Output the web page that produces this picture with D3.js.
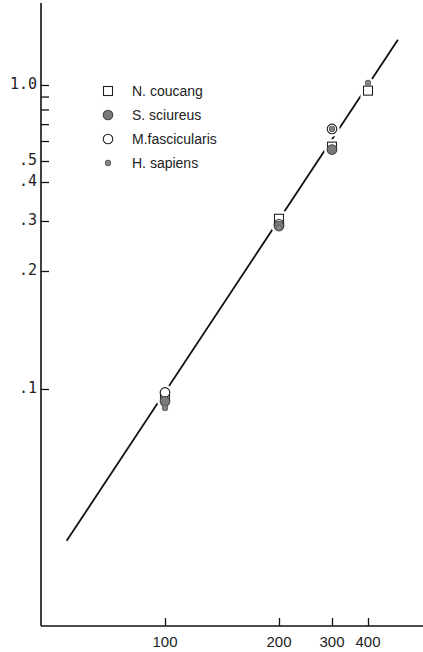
<!DOCTYPE html>
<html>
<head>
<meta charset="utf-8">
<script src="https://cdn.jsdelivr.net/npm/d3@7"></script>
<style>
  body { margin: 0; background: #fff; }
  svg { display: block; }
</style>
</head>
<body>
<div id="chart"></div>
<script>

// 1. Data

const xTicks = [100, 200, 300, 400]
const yTicks = [1.0, 0.5, 0.4, 0.3, 0.2, 0.1]
const yTickLabels = ["1.0", ".5", ".4", ".3", ".2", ".1"]
const yMinorTicks = [0.9, 0.8, 0.7, 0.6]

const species = ["N. coucang", "S. sciureus", "M.fascicularis", "H. sapiens"]

const coucang = [[100, 0.096], [200, 0.305], [300, 0.57], [400, 0.95]]
const sciureus = [[100, 0.093], [200, 0.288], [300, 0.555]]
const fascicularis = [[100, 0.098], [200, 0.292], [300, 0.67]]
const sapiens = [[100, 0.0895], [200, 0.284], [300, 0.67], [400, 1.02]]

// fitted line, end points
const fitLine = [[55, 0.041], [508, 1.51]]

// 2. Dimensions

let dimensions = {
  width: 423,
  height: 652,
  axisX: 41,   // where the y axis stands
  axisY: 626,  // where the x axis stands
}

// 3. Canvas

const wrapper = d3.select("#chart")
  .append("svg")
    .attr("width", dimensions.width)
    .attr("height", dimensions.height)

// 4. Scales (the printed axes are not quite even, so the log scales are piecewise)

const xScale = d3.scaleLog()
  .domain(xTicks)
  .range([165, 279, 332, 368])

const yScale = d3.scaleLog()
  .domain(yTicks)
  .range([85, 161, 182, 221, 271, 389])

// 5. Axes

const yAxisGenerator = d3.axisRight(yScale)
  .tickValues(yTicks.concat(yMinorTicks))
  .tickSize(8)
  .tickFormat("")

const yAxis = wrapper.append("g")
  .attr("transform", `translate(${dimensions.axisX},0)`)
  .call(yAxisGenerator)

yAxis.select(".domain").remove()
yAxis.selectAll("line").attr("stroke", "#111").attr("stroke-width", 1.3)

wrapper.append("line")
  .attr("x1", dimensions.axisX).attr("x2", dimensions.axisX)
  .attr("y1", 3).attr("y2", dimensions.axisY)
  .attr("stroke", "#111").attr("stroke-width", 1.6)

wrapper.append("g")
  .selectAll("text")
  .data(yTicks)
  .join("text")
    .attr("x", dimensions.axisX - 4)
    .attr("y", d => yScale(d) + 4)
    .attr("text-anchor", "end")
    .attr("font-family", "DejaVu Sans Mono, Liberation Mono, monospace")
    .attr("font-size", 15)
    .attr("fill", "#222")
    .text((d, i) => yTickLabels[i])

const xAxisGenerator = d3.axisTop(xScale)
  .tickValues(xTicks)
  .tickSize(8)
  .tickFormat("")

const xAxis = wrapper.append("g")
  .attr("transform", `translate(0,${dimensions.axisY})`)
  .call(xAxisGenerator)

xAxis.select(".domain").remove()
xAxis.selectAll("line").attr("stroke", "#111").attr("stroke-width", 1.3)

wrapper.append("line")
  .attr("x1", dimensions.axisX).attr("x2", dimensions.width)
  .attr("y1", dimensions.axisY).attr("y2", dimensions.axisY)
  .attr("stroke", "#111").attr("stroke-width", 1.6)

wrapper.append("g")
  .selectAll("text")
  .data(xTicks)
  .join("text")
    .attr("x", d => xScale(d))
    .attr("y", dimensions.axisY + 21)
    .attr("text-anchor", "middle")
    .attr("font-family", "Liberation Sans Narrow, Liberation Sans, Arial, sans-serif")
    .attr("font-size", 15)
    .attr("fill", "#222")
    .text(d => d)

// 6. The fitted line

const lineGenerator = d3.line()
  .x(d => xScale(d[0]))
  .y(d => yScale(d[1]))

wrapper.append("path")
  .attr("d", lineGenerator(fitLine))
  .attr("fill", "none")
  .attr("stroke", "#111")
  .attr("stroke-width", 1.8)

// 7. Markers

const markerStyles = [
  { type: "square" },
  { type: "circle", r: 4.8, fill: "#7a7a7a", stroke: "#444" },
  { type: "circle", r: 4.8, fill: "#fff", stroke: "#222" },
  { type: "circle", r: 2.6, fill: "#888", stroke: "#666" },
]

function drawMarker(sel, style, halo) {
  if (style.type === "square") {
    sel.append("rect")
      .attr("x", -4.5).attr("y", -4.5)
      .attr("width", 9).attr("height", 9)
      .attr("fill", "#fff")
      .attr("stroke", halo ? "#fff" : "#222")
      .attr("stroke-width", halo ? 6 : 1.1)
  } else {
    sel.append("circle")
      .attr("r", style.r)
      .attr("fill", halo ? "#fff" : style.fill)
      .attr("stroke", halo ? "#fff" : style.stroke)
      .attr("stroke-width", halo ? 6 : 1.1)
  }
}

const allSeries = [coucang, sciureus, fascicularis, sapiens]

// white halos first (they cut the line round the points), then the markers
const drawOrder = [0, 2, 1, 3]
;[true, false].forEach(halo => {
  drawOrder.forEach(i => {
    wrapper.append("g")
      .selectAll("g")
      .data(allSeries[i])
      .join("g")
        .attr("transform", d => `translate(${xScale(d[0])},${yScale(d[1])})`)
        .each(function () { drawMarker(d3.select(this), markerStyles[i], halo) })
  })
})

// 8. Legend

const legendY = d3.scalePoint()
  .domain(species)
  .range([91, 163])

const legend = wrapper.append("g")

species.forEach((name, i) => {
  const row = legend.append("g")
    .attr("transform", `translate(108,${legendY(name)})`)
  drawMarker(row, markerStyles[i], false)
  row.append("text")
    .attr("x", 24)
    .attr("y", 5)
    .attr("font-family", "Liberation Sans Narrow, Liberation Sans, Arial, sans-serif")
    .attr("font-size", 14)
    .attr("fill", "#222")
    .text(name)
})

</script>
</body>
</html>
